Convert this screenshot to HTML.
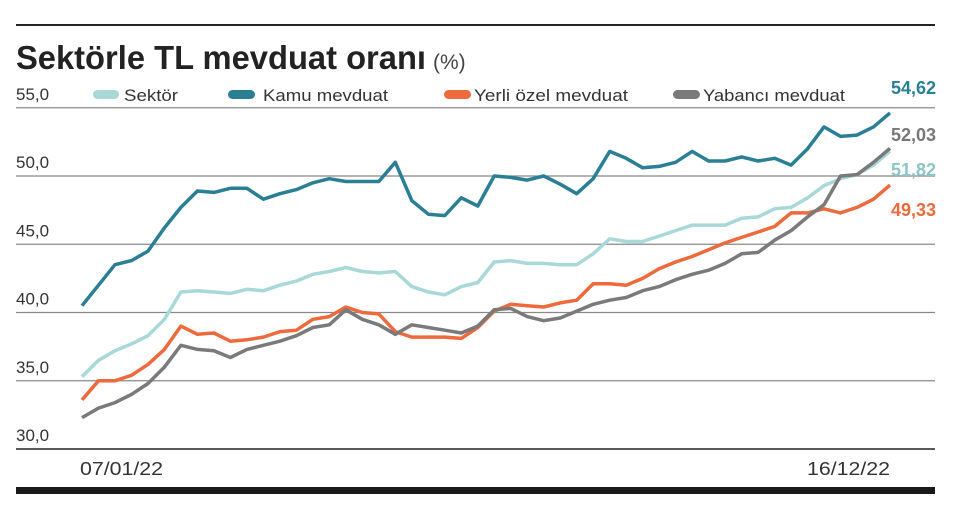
<!DOCTYPE html>
<html><head><meta charset="utf-8"><style>
html,body{margin:0;padding:0;background:#fff;}
svg{display:block;font-family:"Liberation Sans",sans-serif;}
</style></head><body>
<svg id="chart" width="960" height="517" viewBox="0 0 960 517">
<line x1="16" y1="25" x2="935" y2="25" stroke="#222" stroke-width="2"/>
<text x="16" y="69" font-size="33" font-weight="bold" fill="#222" textLength="410" lengthAdjust="spacingAndGlyphs">Sektörle TL mevduat oranı</text>
<text x="433" y="69" font-size="21" fill="#444">(%)</text>
<g id="grid"></g>
<g id="legend" font-size="17" fill="#333">
<rect x="93" y="90" width="26" height="9" rx="4.5" fill="#a8d8d8"/>
<text x="124" y="101" textLength="54" lengthAdjust="spacingAndGlyphs">Sektör</text>
<rect x="228" y="90" width="27" height="9" rx="4.5" fill="#2a7f95"/>
<text x="263" y="101" textLength="125" lengthAdjust="spacingAndGlyphs">Kamu mevduat</text>
<rect x="444" y="90" width="27" height="9" rx="4.5" fill="#ec6a3c"/>
<text x="474" y="101" textLength="154" lengthAdjust="spacingAndGlyphs">Yerli özel mevduat</text>
<rect x="673" y="90" width="27" height="9" rx="4.5" fill="#7a7a7a"/>
<text x="703" y="101" textLength="142" lengthAdjust="spacingAndGlyphs">Yabancı mevduat</text>
</g>
<g id="series"></g>
<g id="endlabels" font-size="18" font-weight="bold"></g>
<line x1="16" y1="449" x2="935" y2="449" stroke="#222" stroke-width="1.5"/>
<text x="80" y="475" font-size="18" fill="#333" textLength="83" lengthAdjust="spacingAndGlyphs">07/01/22</text>
<text x="807" y="475" font-size="18" fill="#333" textLength="83" lengthAdjust="spacingAndGlyphs">16/12/22</text>
<rect x="16" y="487" width="919" height="7" fill="#1a1a1a"/>
</svg>
<script>
const yTicks = [30, 35, 40, 45, 50, 55];
const yTickLabels = ["30,0", "35,0", "40,0", "45,0", "50,0", "55,0"];
const kamu = [40.5,42,43.5,43.8,44.5,46.2,47.7,48.9,48.8,49.1,49.1,48.3,48.7,49.0,49.5,49.8,49.6,49.6,49.6,51.0,48.2,47.2,47.1,48.4,47.8,50.0,49.9,49.7,50.0,49.4,48.7,49.8,51.8,51.3,50.6,50.7,51.0,51.8,51.1,51.1,51.4,51.1,51.3,50.8,52.0,53.6,52.9,53.0,53.6,54.62];
const sektor = [35.3,36.5,37.2,37.7,38.3,39.5,41.5,41.6,41.5,41.4,41.7,41.6,42.0,42.3,42.8,43.0,43.3,43.0,42.9,43.0,41.9,41.5,41.3,41.9,42.2,43.7,43.8,43.6,43.6,43.5,43.5,44.3,45.4,45.2,45.2,45.6,46.0,46.4,46.4,46.4,46.9,47.0,47.6,47.7,48.4,49.3,49.8,50.1,50.8,51.82];
const yerli = [33.6,35.0,35.0,35.4,36.2,37.3,39.0,38.4,38.5,37.9,38.0,38.2,38.6,38.7,39.5,39.7,40.4,40.0,39.9,38.6,38.2,38.2,38.2,38.1,38.9,40.1,40.6,40.5,40.4,40.7,40.9,42.1,42.1,42.0,42.5,43.2,43.7,44.1,44.6,45.1,45.5,45.9,46.3,47.3,47.3,47.6,47.3,47.7,48.3,49.33];
const yabanci = [32.3,33.0,33.4,34.0,34.8,36.0,37.6,37.3,37.2,36.7,37.3,37.6,37.9,38.3,38.9,39.1,40.2,39.5,39.1,38.4,39.1,38.9,38.7,38.5,39.0,40.2,40.3,39.7,39.4,39.6,40.1,40.6,40.9,41.1,41.6,41.9,42.4,42.8,43.1,43.6,44.3,44.4,45.3,46.0,47.0,47.9,50.0,50.1,51.0,52.03];
const endLabels = ["54,62", "52,03", "51,82", "49,33"];

const NS = "http://www.w3.org/2000/svg";
function y(v){ return 449 - (v - 30) * 13.65; }
function x(i){ return 82 + i * (808 / (kamu.length - 1)); }

const grid = document.getElementById('grid');
yTicks.forEach((t, k) => {
  if (t > 30) {
    const l = document.createElementNS(NS, 'line');
    l.setAttribute('x1', 16); l.setAttribute('x2', 935);
    l.setAttribute('y1', y(t)); l.setAttribute('y2', y(t));
    l.setAttribute('stroke', '#888'); l.setAttribute('stroke-width', '1.2');
    
    
    grid.appendChild(l);
  }
  const tx = document.createElementNS(NS, 'text');
  tx.setAttribute('x', 16); tx.setAttribute('y', y(t) - 8);
  tx.setAttribute('font-size', '17'); tx.setAttribute('fill', '#333');
  tx.textContent = yTickLabels[k];
  
  
  grid.appendChild(tx);
});

const series = document.getElementById('series');
function drawLine(data, color, name){
  const p = document.createElementNS(NS, 'polyline');
  p.setAttribute('points', data.map((v, i) => x(i).toFixed(1) + ',' + y(v).toFixed(1)).join(' '));
  p.setAttribute('fill', 'none'); p.setAttribute('stroke', color);
  p.setAttribute('stroke-width', '3.5'); p.setAttribute('stroke-linejoin', 'round');
  
  
  series.appendChild(p);
}
drawLine(sektor, '#a8d8d8', 'line-sektor');
drawLine(yerli, '#ec6a3c', 'line-yerli-ozel');
drawLine(yabanci, '#7a7a7a', 'line-yabanci');
drawLine(kamu, '#2a7f95', 'line-kamu');

const el = document.getElementById('endlabels');
const endSpec = [[kamu, '#2a7f95', 94, 'end-label-kamu'], [yabanci, '#777', 141, 'end-label-yabanci'], [sektor, '#8cc5c5', 176, 'end-label-sektor'], [yerli, '#ec6a3c', 216, 'end-label-yerli']];
endSpec.forEach((s, k) => {
  const t = document.createElementNS(NS, 'text');
  t.setAttribute('x', 891); t.setAttribute('y', s[2]);
  t.setAttribute('fill', s[1]);
  t.textContent = endLabels[k];
  
  
  el.appendChild(t);
});
</script>
</body></html>
